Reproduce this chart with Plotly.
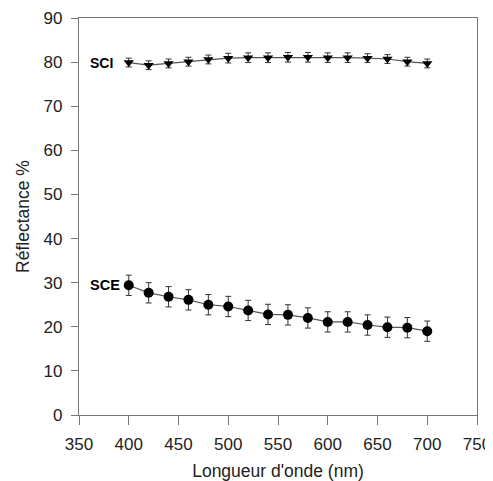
import plotly.graph_objects as go

wavelength = [400, 420, 440, 460, 480, 500, 520, 540, 560, 580, 600, 620, 640, 660, 680, 700]
sci = [79.9, 79.3, 79.7, 80.1, 80.6, 80.9, 81.0, 81.0, 81.1, 81.1, 81.0, 81.0, 80.9, 80.7, 80.1, 79.7]
sci_err = [1.0, 1.0, 1.0, 1.0, 1.0, 1.1, 1.1, 1.1, 1.1, 1.1, 1.1, 1.1, 1.0, 1.0, 1.0, 1.0]
sce = [29.4, 27.7, 26.8, 26.1, 25.0, 24.6, 23.7, 22.8, 22.7, 22.0, 21.1, 21.1, 20.4, 19.9, 19.8, 19.0]
sce_err = [2.3, 2.3, 2.3, 2.3, 2.3, 2.3, 2.3, 2.3, 2.3, 2.3, 2.3, 2.3, 2.3, 2.3, 2.3, 2.3]

font_family = "Liberation Sans, Arial, sans-serif"
line_col = "#555555"

fig = go.Figure()
fig.add_trace(go.Scatter(
    x=wavelength, y=sci, mode="lines+markers",
    line=dict(color=line_col, width=1.2),
    marker=dict(symbol="triangle-down", size=9, color="black"),
    error_y=dict(type="data", array=sci_err, color="#333333", thickness=1, width=3),
    showlegend=False))
fig.add_trace(go.Scatter(
    x=wavelength, y=sce, mode="lines+markers",
    line=dict(color=line_col, width=1.2),
    marker=dict(symbol="circle", size=10, color="black"),
    error_y=dict(type="data", array=sce_err, color="#333333", thickness=1, width=3),
    showlegend=False))

fig.add_annotation(x=359, y=sci[0], text="<b>SCI</b>", showarrow=False,
                   xanchor="left", font=dict(size=14, color="black", family=font_family))
fig.add_annotation(x=359, y=sce[0], text="<b>SCE</b>", showarrow=False,
                   xanchor="left", font=dict(size=14.5, color="black", family=font_family))

axis_common = dict(showgrid=False, zeroline=False, showline=True, linecolor="#777777",
                   linewidth=1.2, ticks="outside", tickcolor="#777777",
                   tickfont=dict(size=17, color="#222222", family=font_family), mirror=True,
                   automargin=False)

fig.update_xaxes(range=[350, 750], tickvals=[350, 400, 450, 500, 550, 600, 650, 700, 750],
                 ticklen=9, ticklabelstandoff=4,
                 title=dict(text="Longueur d'onde (nm)", font=dict(size=17.5, color="#222222", family=font_family), standoff=12),
                 **axis_common)
fig.update_yaxes(range=[0, 90], tickvals=[0, 10, 20, 30, 40, 50, 60, 70, 80, 90],
                 ticklen=7, ticklabelstandoff=5,
                 title=dict(text="Réflectance %", font=dict(size=17.5, color="#222222", family=font_family), standoff=9),
                 **axis_common)

# page body has an 8px margin, so the figure is shifted by 8px
fig.update_layout(width=485, height=473, margin=dict(l=71, r=16, t=10, b=66),
                  plot_bgcolor="white", paper_bgcolor="white")

fig.write_html("out.html")
